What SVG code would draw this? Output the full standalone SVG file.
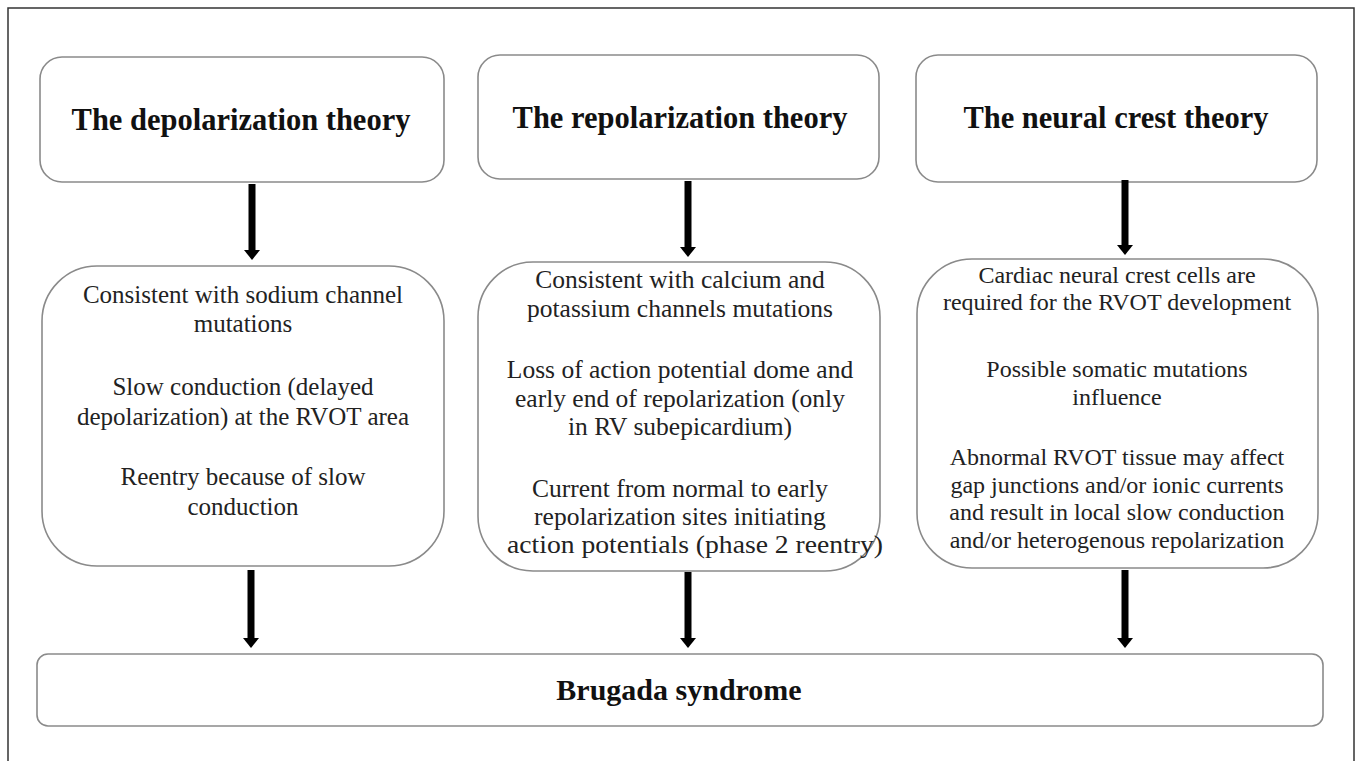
<svg xmlns="http://www.w3.org/2000/svg" width="1360" height="761" viewBox="0 0 1360 761">
<style>
.box{fill:#fff;stroke:#8a8a8a;stroke-width:1.6}
.t{font-family:"Liberation Serif","Times New Roman",serif;font-weight:bold;font-size:30.5px;fill:#111;text-anchor:middle}
.b{font-family:"Liberation Serif","Times New Roman",serif;font-size:25px;fill:#222;text-anchor:middle}
.arr{fill:none;stroke:#000;stroke-width:7}
</style>
<defs>
<marker id="ah" markerWidth="10" markerHeight="16" refX="1" refY="8" orient="auto" markerUnits="userSpaceOnUse">
<path d="M0,0 L10,8 L0,16 Z" fill="#000"/>
</marker>
</defs>
<rect x="0" y="0" width="1360" height="761" fill="#fff"/>
<rect x="8" y="8" width="1346" height="800" fill="none" stroke="#333" stroke-width="1.5"/>

<g id="depol-title"><rect class="box" x="40" y="57" width="404" height="125" rx="22"/>
<text class="t" x="241" y="130">The depolarization  theory</text></g>
<g id="repol-title"><rect class="box" x="478" y="55" width="401" height="124" rx="22"/>
<text class="t" x="680" y="128">The repolarization  theory</text></g>
<g id="neural-title"><rect class="box" x="916" y="55" width="401" height="127" rx="22"/>
<text class="t" x="1116" y="128">The neural crest theory</text></g>

<g id="depol-body"><rect class="box" x="42" y="266" width="402" height="300" rx="55"/>
<text class="b" x="243"><tspan x="243" y="303">Consistent with sodium channel</tspan><tspan x="243" y="332">mutations</tspan><tspan x="243" y="395">Slow conduction (delayed</tspan><tspan x="243" y="425">depolarization) at the RVOT area</tspan><tspan x="243" y="485">Reentry because of slow</tspan><tspan x="243" y="515">conduction</tspan></text></g>
<g id="repol-body"><rect class="box" x="478" y="262" width="402" height="309" rx="55"/>
<text class="b" x="680" style="font-size:25.5px"><tspan x="680" y="288">Consistent with calcium and</tspan><tspan x="680" y="317">potassium channels mutations</tspan><tspan x="680" y="378">Loss of action potential dome and</tspan><tspan x="680" y="407">early end of repolarization (only</tspan><tspan x="680" y="435">in RV subepicardium)</tspan><tspan x="680" y="497">Current from normal to early</tspan><tspan x="680" y="525">repolarization sites initiating</tspan><tspan x="695" y="553" textLength="376" lengthAdjust="spacingAndGlyphs">action potentials (phase 2 reentry)</tspan></text></g>
<g id="neural-body"><rect class="box" x="917" y="259" width="401" height="309" rx="55"/>
<text class="b" x="1118" style="font-size:24px"><tspan x="1117" y="283">Cardiac neural crest cells are</tspan><tspan x="1117" y="310">required for the RVOT development</tspan><tspan x="1117" y="377">Possible somatic mutations</tspan><tspan x="1117" y="405">influence</tspan><tspan x="1117" y="465">Abnormal RVOT tissue may affect</tspan><tspan x="1117" y="493">gap junctions and/or ionic currents</tspan><tspan x="1117" y="520">and result in local slow conduction</tspan><tspan x="1117" y="548">and/or heterogenous repolarization</tspan></text></g>

<g id="brugada"><rect class="box" x="37" y="654" width="1286" height="72" rx="11"/>
<text class="t" x="679" y="700" style="font-size:30px">Brugada syndrome</text></g>

<g id="connectors">
<line class="arr" x1="252" y1="184" x2="252" y2="251" marker-end="url(#ah)"/>
<line class="arr" x1="688" y1="181" x2="688" y2="248" marker-end="url(#ah)"/>
<line class="arr" x1="1125" y1="180" x2="1125" y2="246" marker-end="url(#ah)"/>
<line class="arr" x1="251" y1="570" x2="251" y2="639" marker-end="url(#ah)"/>
<line class="arr" x1="688" y1="572" x2="688" y2="639" marker-end="url(#ah)"/>
<line class="arr" x1="1125" y1="570" x2="1125" y2="639" marker-end="url(#ah)"/>
</g>
</svg>
